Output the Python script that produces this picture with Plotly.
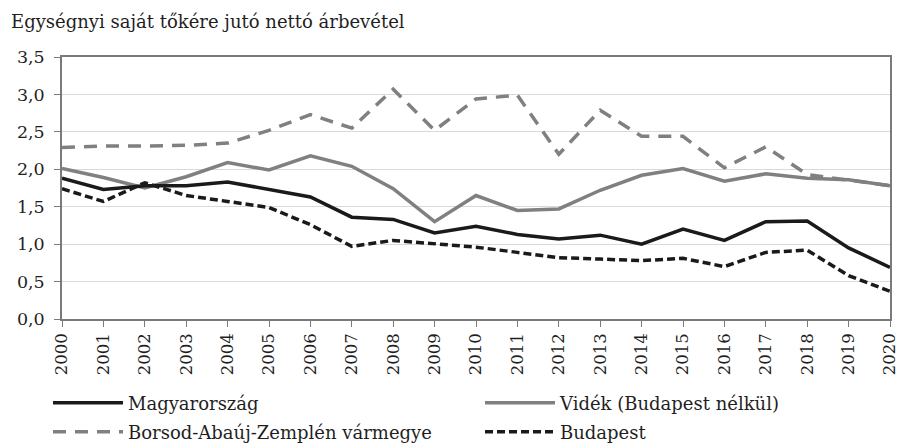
from plotly import graph_objects as go

years = [str(y) for y in range(2000, 2021)]

magyarorszag = [1.88, 1.73, 1.78, 1.78, 1.83, 1.73, 1.63, 1.36, 1.33, 1.15, 1.24,
                1.13, 1.07, 1.12, 1.00, 1.20, 1.05, 1.30, 1.31, 0.95, 0.69]
videk = [2.01, 1.89, 1.75, 1.90, 2.09, 1.99, 2.18, 2.04, 1.74, 1.30, 1.65,
         1.45, 1.47, 1.72, 1.92, 2.01, 1.84, 1.94, 1.88, 1.86, 1.78]
baz = [2.29, 2.31, 2.31, 2.32, 2.35, 2.52, 2.73, 2.55, 3.07, 2.52, 2.94,
       2.99, 2.20, 2.79, 2.44, 2.44, 2.02, 2.30, 1.93, 1.86, 1.78]
budapest = [1.74, 1.57, 1.82, 1.65, 1.57, 1.49, 1.26, 0.97, 1.05, 1.01, 0.96,
            0.89, 0.82, 0.80, 0.78, 0.81, 0.70, 0.89, 0.92, 0.58, 0.37]

black = '#1a1a1a'
grey = '#808080'
txt = '#1f1f1f'
font = 'DejaVu Serif'

fig = go.Figure()
fig.add_trace(go.Scatter(x=years, y=baz, name='Borsod-Abaúj-Zemplén vármegye',
                         mode='lines', line=dict(color=grey, width=3.5, dash='13px,9px'),
                         legend='legend3'))
fig.add_trace(go.Scatter(x=years, y=videk, name='Vidék (Budapest nélkül)',
                         mode='lines', line=dict(color=grey, width=3.5),
                         legend='legend2'))
fig.add_trace(go.Scatter(x=years, y=magyarorszag, name='Magyarország',
                         mode='lines', line=dict(color=black, width=3.5),
                         legend='legend'))
fig.add_trace(go.Scatter(x=years, y=budapest, name='Budapest',
                         mode='lines', line=dict(color=black, width=3.5, dash='8px,4px'),
                         legend='legend4'))

legend_common = dict(
    orientation='h', xref='container', yref='container', xanchor='left',
    yanchor='middle', font=dict(family=font, size=18, color=txt),
    itemwidth=70, bgcolor='rgba(0,0,0,0)',
)
col1, col2 = 48 / 900, 480 / 900
row1, row2 = 1 - 403 / 444, 1 - 432 / 444

fig.update_layout(
    width=900, height=444,
    margin=dict(l=62, r=10, t=57, b=125),
    paper_bgcolor='white', plot_bgcolor='white',
    separators=', ',
    font=dict(family=font, size=17, color=txt),
    title=dict(text='Egységnyi saját tőkére jutó nettó árbevétel',
               x=11 / 900, xanchor='left', xref='container',
               y=1 - 22 / 444, yanchor='middle', yref='container',
               font=dict(family=font, size=18, color=txt)),
    showlegend=True,
    legend=dict(legend_common, x=col1, y=row1),
    legend2=dict(legend_common, x=col2, y=row1),
    legend3=dict(legend_common, x=col1, y=row2),
    legend4=dict(legend_common, x=col2, y=row2),
    xaxis=dict(
        type='category', range=[0, 20], automargin=False,
        showgrid=False, showline=True, linecolor='#7a7a7a', linewidth=1.5,
        mirror=True, ticks='outside', ticklen=6, tickcolor='#7a7a7a',
        tickangle=-90, tickfont=dict(family=font, size=16.5, color=txt),
    ),
    yaxis=dict(
        range=[0, 3.5], dtick=0.5, tickformat='.1f', automargin=False,
        showgrid=True, gridcolor='#d9d9d9', gridwidth=1.2,
        showline=True, linecolor='#7a7a7a', linewidth=1.5, mirror=True,
        ticks='outside', ticklen=6, tickcolor='#7a7a7a', zeroline=False,
        ticklabelstandoff=6,
        tickfont=dict(family=font, size=17.5, color=txt),
    ),
)

fig.write_html("out.html", config=dict(displayModeBar=False),
               post_script="document.body.style.margin='0';")
